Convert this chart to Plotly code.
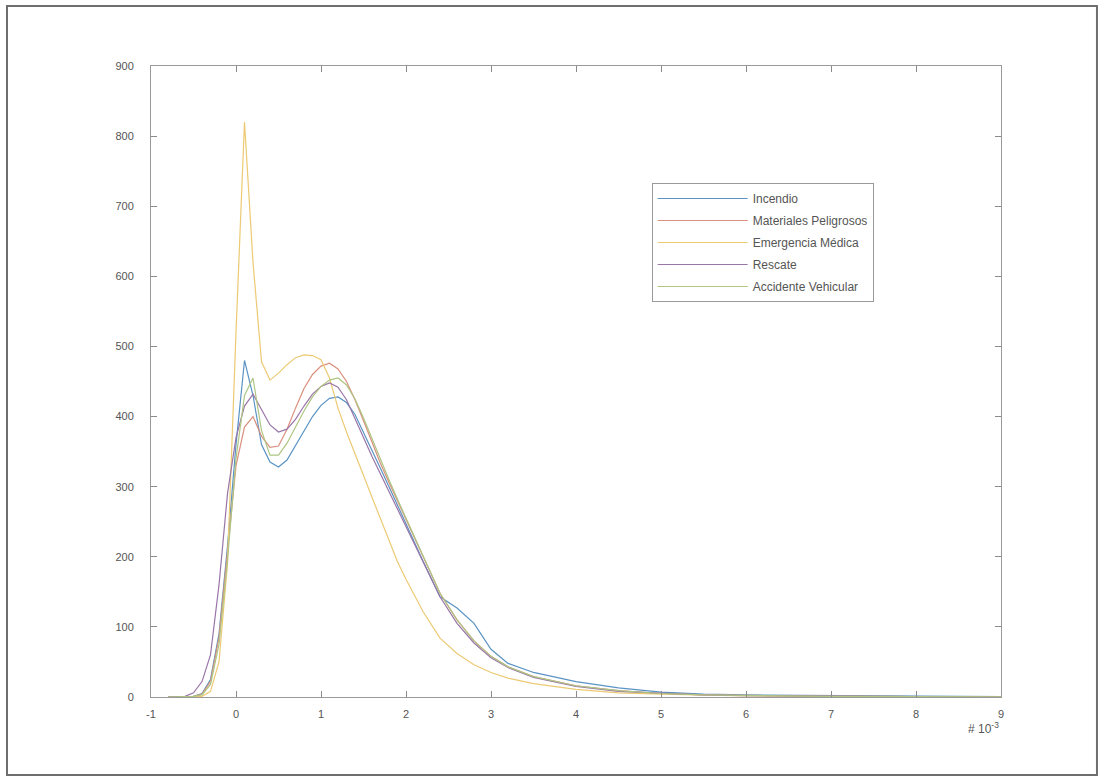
import plotly.graph_objects as go

# Shared x grid (units of 1e-3)
x_vals = [-0.8, -0.6, -0.5, -0.4, -0.3, -0.2, -0.1,
          0.0, 0.1, 0.2, 0.3, 0.4, 0.5, 0.6, 0.7, 0.8, 0.9, 1.0,
          1.1, 1.2, 1.3, 1.4, 1.5, 1.6, 1.7, 1.8, 1.9, 2.0,
          2.2, 2.4, 2.6, 2.8, 3.0, 3.2,
          3.5, 4.0, 4.5, 5.0, 5.5, 6.0,
          7.0, 8.0, 9.0]

incendio = [0, 0, 1, 5, 25, 90, 215,
            360, 480, 430, 360, 335, 328, 338, 358, 380, 400, 416,
            426, 428, 420, 403, 378, 352, 326, 300, 273, 246,
            194, 143, 127, 105, 68, 48,
            35, 22, 13, 7, 4, 3,
            2, 1, 0.5]

materiales = [0, 0, 1, 4, 22, 85, 205,
              330, 385, 400, 372, 356, 358, 382, 412, 440, 460, 472,
              476, 468, 450, 424, 394, 362, 333, 306, 280, 254,
              200, 148, 110, 80, 58, 43,
              29, 16, 9, 5, 3, 2,
              1, 0.5, 0.3]

emergencia = [0, 0, 0, 1, 8, 50, 190,
              520, 820, 620, 478, 452, 462, 474, 484, 488, 487, 481,
              455, 412, 378, 348, 316, 285, 254, 222, 193, 168,
              122, 84, 62, 46, 35, 27,
              19, 11, 6, 4, 2.5, 1.5,
              1, 0.5, 0.3]

rescate = [0, 1, 6, 22, 60, 160, 290,
           370, 415, 432, 410, 388, 378, 382, 396, 415, 432, 443,
           448, 442, 424, 398, 370, 343, 318, 293, 268, 243,
           193, 143, 105, 77, 56, 42,
           28, 15, 8, 5, 3, 2,
           1, 0.5, 0.3]

accidente = [0, 0, 1, 3, 18, 75, 195,
             340, 430, 455, 380, 345, 345, 362, 385, 408, 428, 443,
             452, 455, 445, 425, 398, 368, 338, 310, 282, 255,
             200, 148, 110, 80, 58, 43,
             29, 16, 9, 5, 3, 2,
             1, 0.5, 0.3]

series_names = ["Incendio", "Materiales Peligrosos", "Emergencia Médica",
                "Rescate", "Accidente Vehicular"]
series_values = [incendio, materiales, emergencia, rescate, accidente]
series_colors = ["#5a93c4", "#d9907e", "#ecca74", "#9a76a8", "#aec583"]

x_ticks = list(range(-1, 10))
y_ticks = list(range(0, 1000, 100))

FONT = "Liberation Sans, Arial, sans-serif"

fig = go.Figure()
for name, vals, col in zip(series_names, series_values, series_colors):
    fig.add_trace(go.Scatter(
        x=x_vals, y=vals, mode="lines", name=name,
        legendgroup=name,
        line=dict(color=col, width=1.2),
    ))

axis_common = dict(
    showgrid=False, zeroline=False,
    showline=True, linecolor="#9a9a9a", linewidth=1, mirror="ticks",
    ticks="inside", ticklen=6, tickcolor="#8a8a8a", tickwidth=1,
    tickfont=dict(family=FONT, size=11, color="#555555"),
)

fig.update_xaxes(range=[-1, 9], tickvals=x_ticks, ticktext=[str(t) for t in x_ticks],
                 ticklabelstandoff=7, **axis_common)
fig.update_yaxes(range=[0, 900], tickvals=y_ticks, ticktext=[str(t) for t in y_ticks],
                 ticklabelstandoff=14, **axis_common)

# outer figure border
fig.add_shape(type="rect", xref="paper", yref="paper",
              x0=-0.1694, x1=1.1129, y0=-0.1236, y1=1.0951,
              line=dict(color="#6e6e6e", width=2), fillcolor="rgba(0,0,0,0)", layer="below")

fig.add_annotation(xref="paper", yref="paper", x=1.0, y=-0.049,
                   xanchor="right", yanchor="middle", showarrow=False,
                   text="# 10<sup>-3</sup>",
                   font=dict(family=FONT, size=12, color="#555555"))

fig.update_layout(
    width=1104, height=781,
    margin=dict(l=151, r=103, t=66, b=84),
    paper_bgcolor="white", plot_bgcolor="white",
    showlegend=True,
    legend=dict(
        x=0.589, y=0.8146, xanchor="left", yanchor="top",
        bgcolor="white", bordercolor="#9a9a9a", borderwidth=1,
        font=dict(family=FONT, size=12, color="#555555"),
        tracegroupgap=3, itemwidth=90,
    ),
)

fig.write_html("out.html", config={"displayModeBar": False},
               post_script="document.body.style.margin='0';")
